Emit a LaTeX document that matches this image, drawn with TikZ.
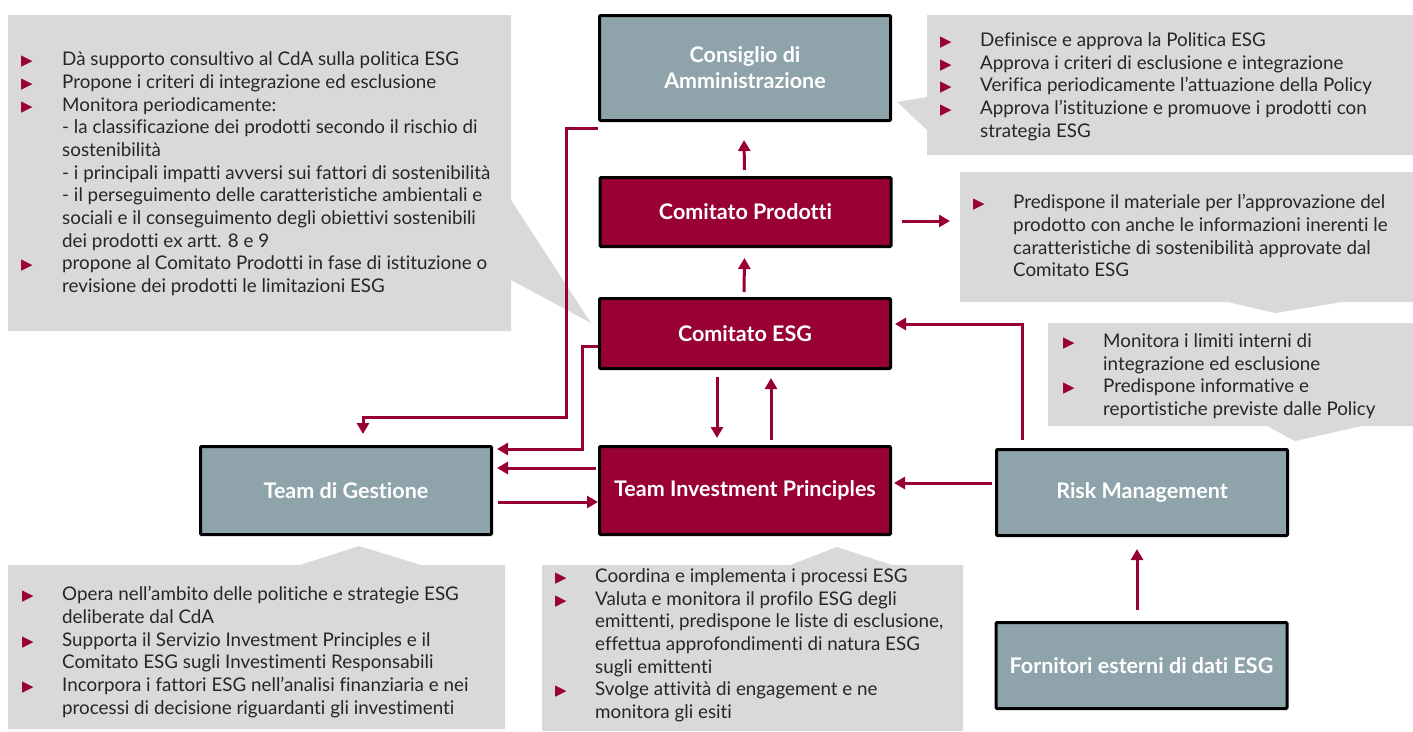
\documentclass[tikz,border=0pt]{standalone}
\usepackage{fontspec}
\setmainfont{Lato}[Ligatures=NoCommon]
\newfontfamily\symf{DejaVu Sans}
\usetikzlibrary{arrows.meta,calc}
\definecolor{crim}{HTML}{990033}
\definecolor{gb}{HTML}{8EA4AA}
\definecolor{callg}{HTML}{D9D9D9}
\definecolor{txtc}{HTML}{262626}
\newcommand{\bl}[1][40]{\makebox[#1pt][l]{\raisebox{0pt}{\textcolor{crim}{\symf\fontsize{15}{15}\selectfont ▶}}}}
\newcommand{\ind}[1][40]{\hspace*{#1pt}}
\begin{document}
\begin{tikzpicture}[x=1pt,y=-1pt,
  box/.style={draw=black,line width=3pt,minimum width=291pt,text=white,
    font=\fontsize{21.5}{26}\selectfont\bfseries,align=center,inner sep=0pt,rounded corners=1pt},
  gbox/.style={box,fill=gb},
  rbox/.style={box,fill=crim},
  arr/.style={draw=crim,line width=3pt,-{Triangle[length=11pt,width=12pt]}},
  call/.style={fill=callg,draw=none},
  txt/.style={anchor=north west,inner sep=0pt,align=left,text=txtc,
    font=\fontsize{18.8}{22.7}\selectfont}]
\useasboundingbox (0,0) rectangle (1413,731);

% callouts
\path[call] (8,15) -- (511,15) -- (511,200) -- (591,323) -- (511,280) -- (511,331) -- (8,331) -- cycle;
\path[call] (927,15) -- (1413,15) -- (1413,155) -- (927,155) -- (927,130) -- (897,102) -- (927,97) -- cycle;
\path[call] (960,172) -- (1413,172) -- (1413,302) -- (1342,302) -- (1275,313) -- (1228,302) -- (960,302) -- cycle;
\path[call] (1048,323) -- (1413,323) -- (1413,426) -- (1362,426) -- (1295,441) -- (1267,426) -- (1048,426) -- cycle;
\path[call] (8,565) -- (300,565) -- (359,546) -- (421,565) -- (505,565) -- (505,729) -- (8,729) -- cycle;
\path[call] (542,565) -- (790,565) -- (837,547) -- (892,565) -- (963,565) -- (963,731) -- (542,731) -- cycle;

% callout texts
\node[txt] (tA) at (21,49.6) {\strut\bl[41]Dà supporto consultivo al CdA sulla politica ESG\\
\bl[41]Propone i criteri di integrazione ed esclusione\\
\bl[41]Monitora periodicamente:\\
\ind[41]- la classificazione dei prodotti secondo il rischio di\\
\ind[41]sostenibilità\\
\ind[41]- i principali impatti avversi sui fattori di sostenibilità\\
\ind[41]- il perseguimento delle caratteristiche ambientali e\\
\ind[41]sociali e il conseguimento degli obiettivi sostenibili\\
\ind[41]dei prodotti ex artt. 8 e 9\\
\bl[41]propone al Comitato Prodotti in fase di istituzione o\\
\ind[41]revisione dei prodotti le limitazioni ESG};

\node[txt] (tB) at (940,30.3) {\strut\bl Definisce e approva la Politica ESG\\
\bl Approva i criteri di esclusione e integrazione\\
\bl Verifica periodicamente l’attuazione della Policy\\
\bl Approva l’istituzione e promuove i prodotti con\\
\ind strategia ESG};

\node[txt] (tC) at (973,192.6) {\strut\bl Predispone il materiale per l’approvazione del\\
\ind prodotto con anche le informazioni inerenti le\\
\ind caratteristiche di sostenibilità approvate dal\\
\ind Comitato ESG};

\node[txt] (tD) at (1063,331.3) {\strut\bl Monitora i limiti interni di\\
\ind integrazione ed esclusione\\
\bl Predispone informative e\\
\ind reportistiche previste dalle Policy};

\node[txt] (tE) at (22,584.6) {\strut\bl[40]Opera nell’ambito delle politiche e strategie ESG\\
\ind[40]deliberate dal CdA\\
\bl[40]Supporta il Servizio Investment Principles e il\\
\ind[40]Comitato ESG sugli Investimenti Responsabili\\
\bl[40]Incorpora i fattori ESG nell’analisi finanziaria e nei\\
\ind[40]processi di decisione riguardanti gli investimenti};

\node[txt] (tF) at (555,566.3) {\strut\bl Coordina e implementa i processi ESG\\
\bl Valuta e monitora il profilo ESG degli\\
\ind emittenti, predispone le liste di esclusione,\\
\ind effettua approfondimenti di natura ESG\\
\ind sugli emittenti\\
\bl Svolge attività di engagement e ne\\
\ind monitora gli esiti};

% boxes
\node[gbox,minimum height=105pt] (cda) at (745,68) {Consiglio di\\Amministrazione};
\node[rbox,minimum height=69pt] (cp) at (745.5,212) {Comitato Prodotti};
\node[rbox,minimum height=70pt] (cesg) at (745,333.5) {Comitato ESG};
\node[rbox,minimum height=88pt] (tip) at (745,490.5) {Team Investment Principles};
\node[gbox,minimum height=88pt] (tdg) at (346,490.5) {Team di Gestione};
\node[gbox,minimum height=86pt] (rm) at (1142,492.5) {Risk Management};
\node[gbox,minimum height=86pt] (forn) at (1141.5,665.5) {Fornitori esterni di dati ESG};

\coordinate (cCw) at (960,221);

% connectors
\draw[arr] ($(cda.south west)+(0,6)$) -- ++(-32,0) -- ++(0,289) -| ($(tdg.north)+(17,-11)$);
\draw[arr] ($(cesg.west)+(0,12.5)$) -- ++(-16,0) |- ($(tdg.north east)+(4,4)$);
\draw[arr] ($(tip.west)+(-2,-22.5)$) -- ($(tdg.east)+(4,-22.5)$);
\draw[arr] ($(tdg.east)+(5,11.5)$) -- ($(tip.west)+(0,11.5)$);
\draw[arr] ($(cp.north)+(-1,-6)$) -- ($(cda.south)+(-1,18)$);
\draw[arr] ($(cesg.north)+(-1,-5)$) -- ($(cp.south)+(-1,10)$);
\draw[arr] ($(cp.east)+(9,9)$) -- ($(cCw)+(-10,0)$);
\draw[arr] ($(cesg.south)+(-28,7)$) -- ($(tip.north)+(-28,-7)$);
\draw[arr] ($(tip.north)+(26,-5)$) -- ($(cesg.south)+(26,8)$);
\draw[arr] ($(rm.north west)+(27,-8)$) |- ($(cesg.east)+(3,-9.5)$);
\draw[arr] ($(rm.west)+(-3,-9.5)$) -- ($(tip.east)+(2,-7.5)$);
\draw[arr] ($(forn.north)+(-4.5,-11)$) -- ($(rm.south)+(-5,12)$);
\end{tikzpicture}
\end{document}
